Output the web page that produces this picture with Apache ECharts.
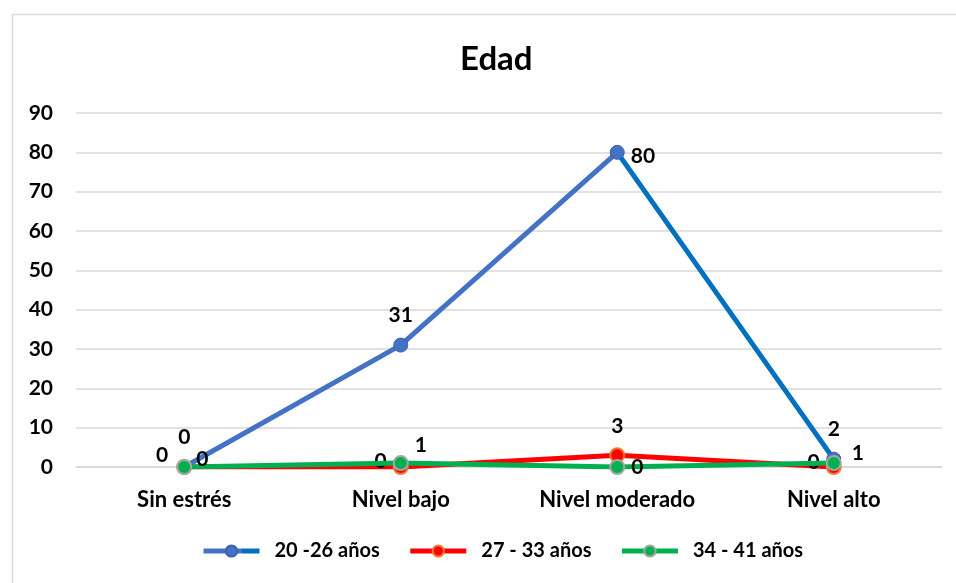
<!DOCTYPE html>
<html>
<head>
<meta charset="utf-8">
<script src="https://cdn.jsdelivr.net/npm/echarts@6/dist/echarts.min.js"></script>
<style>
  html, body { margin: 0; padding: 0; background: #fff; }
  #chart { width: 956px; height: 583px; }
</style>
</head>
<body>
<div id="chart"></div>
<script>
const categories = ['Sin estrés', 'Nivel bajo', 'Nivel moderado', 'Nivel alto'];
const edad20a26 = [0, 31, 80, 2];
const edad27a33 = [0, 0, 3, 0];
const edad34a41 = [0, 1, 0, 1];
const yTicks = [0, 10, 20, 30, 40, 50, 60, 70, 80, 90];

const FONT = 'Lato';

// where each data label sits, per point (style only)
const blueLabels = [
  { position: 'top', distance: 12 },
  { position: 'top', distance: 12 },
  { position: 'right', distance: 6, offset: [0, 4] },
  { position: 'top', distance: 12 }
];
const redLabels = [
  { position: 'left', distance: 8, offset: [0, -12] },
  { position: 'left', distance: 6, offset: [0, -6] },
  { position: 'top', distance: 10 },
  { position: 'left', distance: 6, offset: [0, -5] }
];
const greenLabels = [
  { position: 'right', distance: 4, offset: [0, -8] },
  { position: 'right', distance: 6, offset: [0, -18] },
  { position: 'right', distance: 6 },
  { position: 'right', distance: 10, offset: [0, -10] }
];

function withLabels(values, labels) {
  return values.map((v, i) => ({ value: v, label: labels[i] }));
}

const labelBase = {
  show: true,
  color: '#000',
  fontFamily: FONT,
  fontWeight: 'bold',
  fontSize: 21
};

// blue line: rising part #4472C4, falling part #0070C0 (split at the third point)
const blueSplit = 2 / 3;
const blueLine = new echarts.graphic.LinearGradient(0, 0, 1, 0, [
  { offset: 0, color: '#4472C4' },
  { offset: blueSplit, color: '#4472C4' },
  { offset: blueSplit, color: '#0070C0' },
  { offset: 1, color: '#0070C0' }
]);

const chart = echarts.init(document.getElementById('chart'));
chart.setOption({
  backgroundColor: '#fff',
  animation: false,
  graphic: [{
    type: 'rect',
    shape: { x: 12.5, y: 14.5, width: 980, height: 620 },
    style: { fill: 'none', stroke: '#d9d9d9', lineWidth: 1.5 },
    silent: true
  }],
  title: {
    text: 'Edad',
    left: 455,
    top: 38,
    textStyle: { fontFamily: FONT, fontWeight: 'bold', fontSize: 33, color: '#000' }
  },
  legend: {
    bottom: 17,
    left: 196,
    itemWidth: 56,
    itemHeight: 14,
    itemGap: 28,
    lineStyle: { width: 5 },
    textStyle: {
      fontFamily: FONT, fontWeight: 'bold', fontSize: 20, color: '#000',
      padding: [0, 0, 0, 10]
    },
    data: ['20 -26 años', '27 - 33 años', '34 - 41 años']
  },
  grid: { left: 76, right: 14, top: 113, bottom: 116 },
  xAxis: {
    type: 'category',
    data: categories,
    boundaryGap: true,
    axisLine: { lineStyle: { color: '#d9d9d9', width: 1.5 } },
    axisTick: { show: false },
    axisLabel: {
      margin: 22,
      color: '#000',
      fontFamily: FONT,
      fontWeight: 'bold',
      fontSize: 22
    }
  },
  yAxis: {
    type: 'value',
    min: yTicks[0],
    max: yTicks[yTicks.length - 1],
    interval: 10,
    axisLine: { show: false },
    axisTick: { show: false },
    splitLine: { lineStyle: { color: '#d9d9d9', width: 1.5 } },
    axisLabel: {
      margin: 23,
      color: '#000',
      fontFamily: FONT,
      fontWeight: 'bold',
      fontSize: 21
    }
  },
  series: [
    {
      name: '20 -26 años',
      type: 'line',
      data: withLabels(edad20a26, blueLabels),
      symbol: 'circle',
      symbolSize: 14,
      lineStyle: { width: 5, color: blueLine },
      itemStyle: { color: '#4472C4', borderColor: '#3a62aa', borderWidth: 1 },
      label: labelBase,
      z: 3
    },
    {
      name: '27 - 33 años',
      type: 'line',
      data: withLabels(edad27a33, redLabels),
      symbol: 'circle',
      symbolSize: 14,
      lineStyle: { width: 5, color: '#FF0000' },
      itemStyle: { color: '#FF0000', borderColor: '#ED7D31', borderWidth: 2 },
      label: labelBase,
      z: 4
    },
    {
      name: '34 - 41 años',
      type: 'line',
      data: withLabels(edad34a41, greenLabels),
      symbol: 'circle',
      symbolSize: 14,
      lineStyle: { width: 5, color: '#00B050' },
      itemStyle: { color: '#00B050', borderColor: '#A5A5A5', borderWidth: 2 },
      label: labelBase,
      z: 5
    }
  ]
});
</script>
</body>
</html>
